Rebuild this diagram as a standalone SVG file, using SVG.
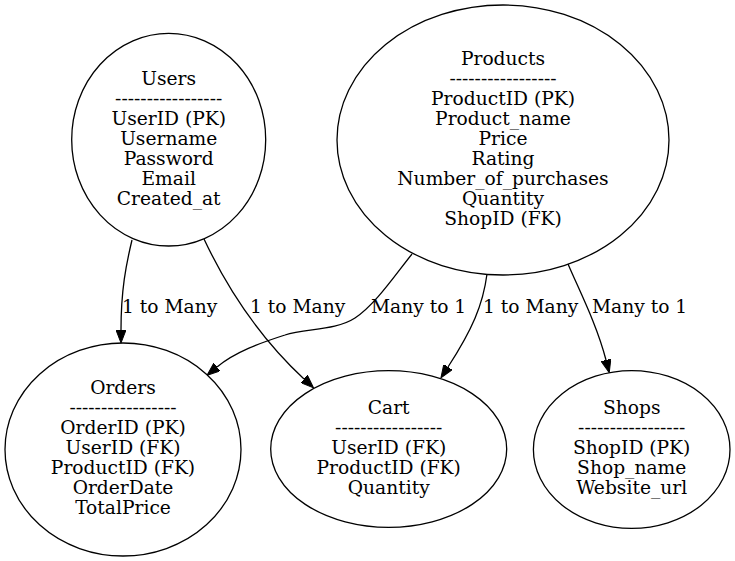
<svg xmlns="http://www.w3.org/2000/svg" width="735" height="561" viewBox="0 0 735 561">
<style>
text{font-family:"DejaVu Serif","Liberation Serif",serif;font-size:18.67px;fill:#000}
.n text{text-anchor:middle}
.n ellipse{fill:none;stroke:#000;stroke-width:1.3}
.e path{fill:none;stroke:#000;stroke-width:1.3}
</style>
<defs>
<marker id="ah" markerUnits="userSpaceOnUse" viewBox="0 0 13 10" refX="0" refY="5" markerWidth="13" markerHeight="10" orient="auto">
<path d="M0,0 L13,5 L0,10 z" fill="#000" stroke="#000" stroke-width="1"/>
</marker>
</defs>
<rect width="735" height="561" fill="#fff"/>
<g id="edges" class="e">
<path d="M132,240 C126,265 121,290 121,330" marker-end="url(#ah)"/>
<path d="M204,239 C228,290 262,340 304,379" marker-end="url(#ah)"/>
<path d="M412,254 C395,275 375,305 355,318 C335,331 305,328 285,335 C260,343 235,352 217,367" marker-end="url(#ah)"/>
<path d="M487,274 C483,305 472,330 448,367" marker-end="url(#ah)"/>
<path d="M568,264 C580,292 597,325 606,360" marker-end="url(#ah)"/>
<text x="122" y="313">1 to Many</text>
<text x="250" y="313">1 to Many</text>
<text x="371" y="313">Many to 1</text>
<text x="483" y="313">1 to Many</text>
<text x="592" y="313">Many to 1</text>
</g>
<g id="Users" class="n">
<ellipse cx="168.7" cy="139.7" rx="97" ry="106.3"/>
<text x="168.7" y="85">Users</text>
<text x="168.7" y="105">-----------------</text>
<text x="168.7" y="125">UserID (PK)</text>
<text x="168.7" y="145">Username</text>
<text x="168.7" y="165">Password</text>
<text x="168.7" y="185">Email</text>
<text x="168.7" y="205">Created_at</text>
</g>
<g id="Products" class="n">
<ellipse cx="503" cy="140" rx="166" ry="135"/>
<text x="503" y="65">Products</text>
<text x="503" y="85">-----------------</text>
<text x="503" y="105">ProductID (PK)</text>
<text x="503" y="125">Product_name</text>
<text x="503" y="145">Price</text>
<text x="503" y="165">Rating</text>
<text x="503" y="185">Number_of_purchases</text>
<text x="503" y="205">Quantity</text>
<text x="503" y="225">ShopID (FK)</text>
</g>
<g id="Orders" class="n">
<ellipse cx="123" cy="449.5" rx="118" ry="106.5"/>
<text x="123" y="394">Orders</text>
<text x="123" y="414">-----------------</text>
<text x="123" y="434">OrderID (PK)</text>
<text x="123" y="454">UserID (FK)</text>
<text x="123" y="474">ProductID (FK)</text>
<text x="123" y="494">OrderDate</text>
<text x="123" y="514">TotalPrice</text>
</g>
<g id="Cart" class="n">
<ellipse cx="388.7" cy="449" rx="118" ry="78.3"/>
<text x="388.7" y="413.5">Cart</text>
<text x="388.7" y="433.5">-----------------</text>
<text x="388.7" y="453.5">UserID (FK)</text>
<text x="388.7" y="473.5">ProductID (FK)</text>
<text x="388.7" y="493.5">Quantity</text>
</g>
<g id="Shops" class="n">
<ellipse cx="631.7" cy="449.5" rx="98.3" ry="78.8"/>
<text x="631.7" y="414">Shops</text>
<text x="631.7" y="434">-----------------</text>
<text x="631.7" y="454">ShopID (PK)</text>
<text x="631.7" y="474">Shop_name</text>
<text x="631.7" y="494">Website_url</text>
</g>
</svg>
